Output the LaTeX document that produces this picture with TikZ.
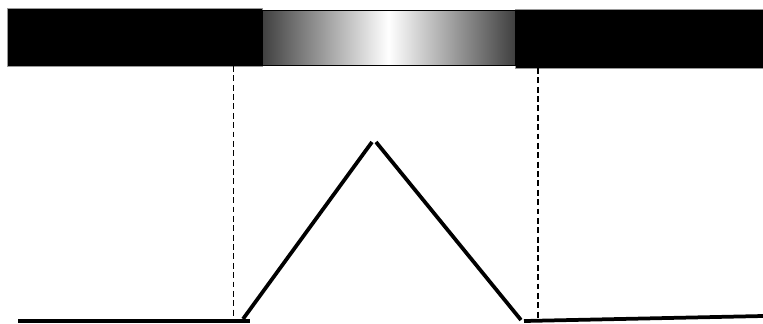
\documentclass[tikz,border=0pt]{standalone}
\usepackage{xcolor}
\usepackage{tikz}
\usetikzlibrary{calc}

\begin{document}
\begin{tikzpicture}[x=0.03cm,y=-0.03cm,
   bar/.style={fill=black,draw=black!40,line width=0.4pt},
   grad/.style={draw=black,line width=0.8pt,left color=black!75,right color=black!75,middle color=white},
   prof/.style={line width=3.2pt},
   guide/.style={dash pattern=on 5pt off 3pt,line width=1.1pt}]
  \useasboundingbox (0,0) rectangle (763,323);
  \filldraw[bar] (7,8) rectangle (262,66);
  \filldraw[bar] (515,9) rectangle (763,68);
  \shade[grad] (262,10) rectangle (515,65);
  \coordinate (l1) at (18,321);
  \coordinate (l2) at (250,321);
  \coordinate (a) at (243,319);
  \coordinate (p1) at (372,142);
  \coordinate (p2) at (376,142);
  \coordinate (b) at (521,320);
  \coordinate (r1) at (524,321);
  \coordinate (r2) at (763,316);
  \coordinate (dl1) at (233.5,66);
  \coordinate (dl2) at (233.5,318);
  \coordinate (dr1) at (538,68);
  \coordinate (dr2) at (538,318);
  \draw[guide] (dl1)--(dl2);
  \draw[guide] (dr1)--(dr2);
  \draw[prof] (l1)--(l2);
  \draw[prof] (a)--(p1);
  \draw[prof] (p2)--(b);
  \draw[prof] (r1)--(r2);
\end{tikzpicture}
\end{document}
